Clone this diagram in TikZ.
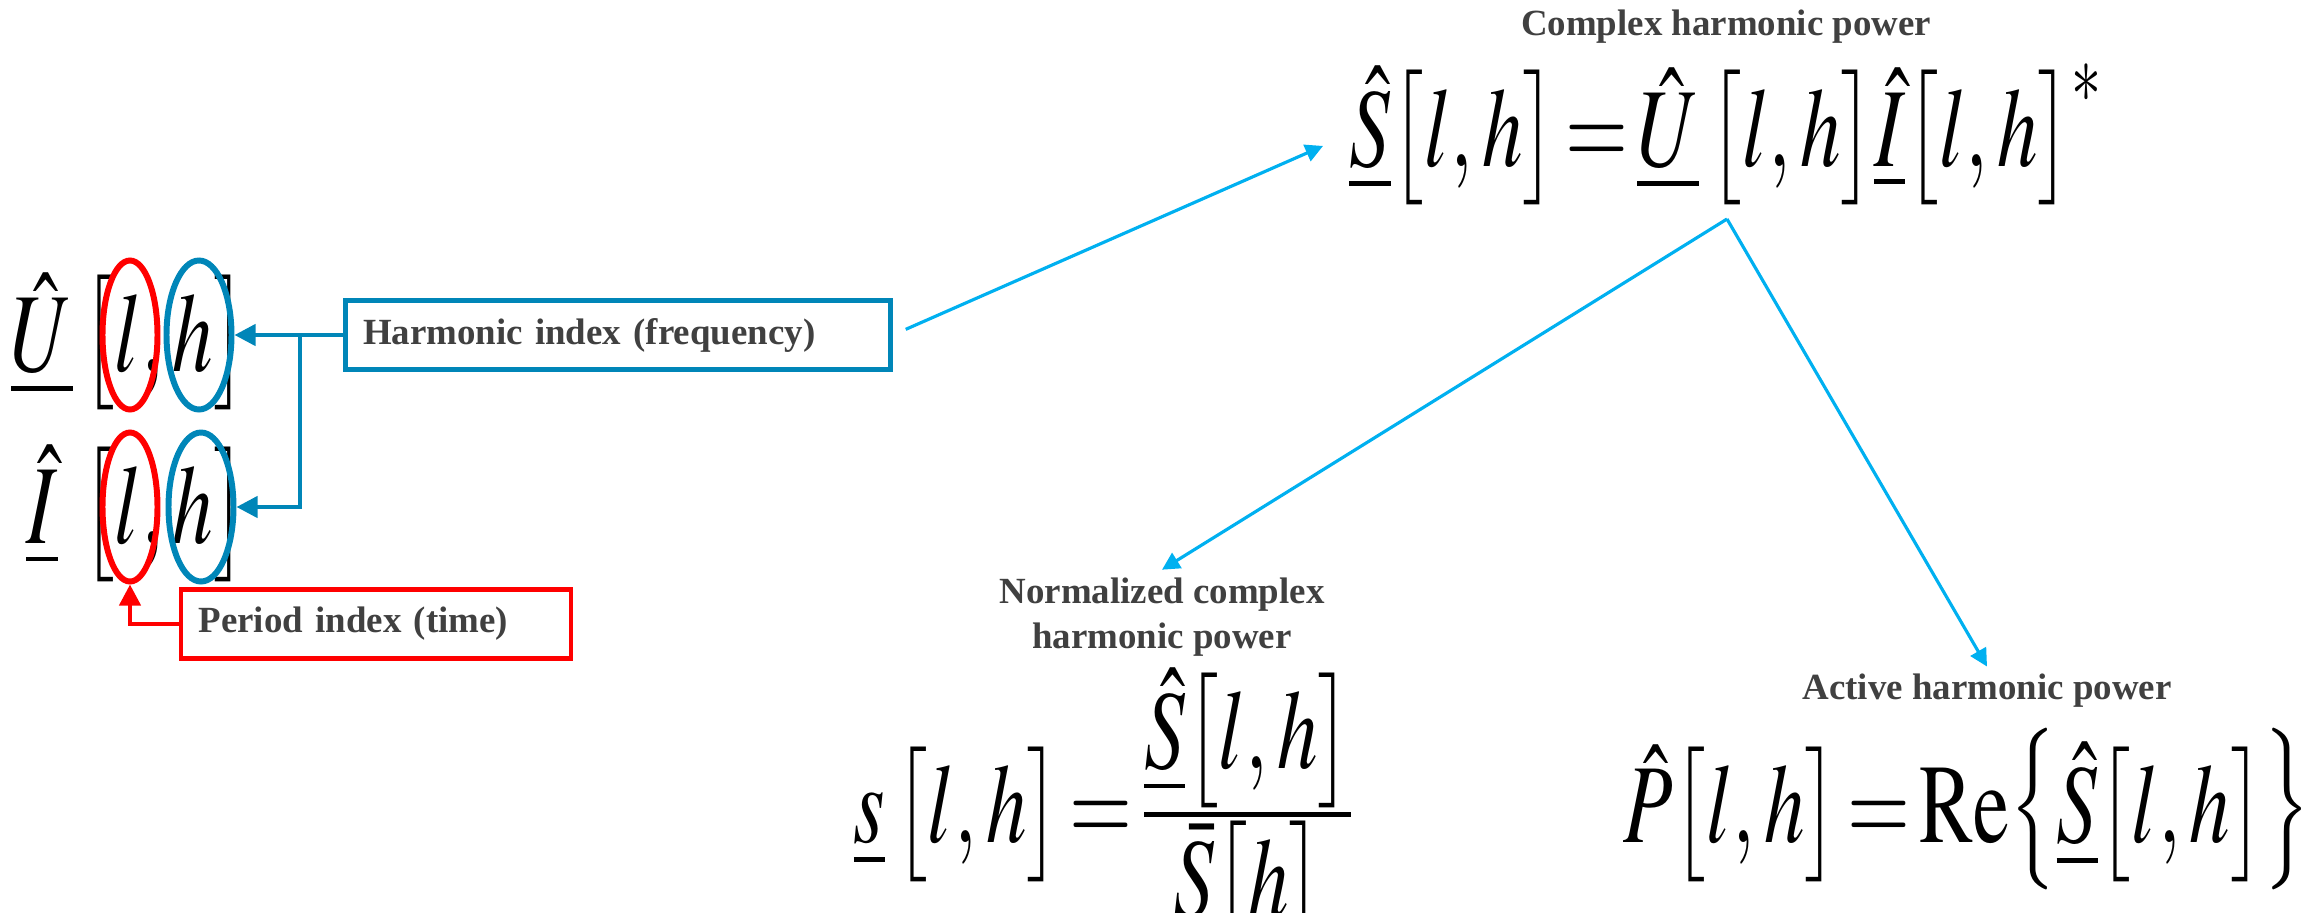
\documentclass[tikz,border=0pt]{standalone}
\usepackage{amsmath}
\usepackage{graphicx}
\usepackage{mathptmx}
\usepackage{fontspec}
\setmainfont{Liberation Serif}
\usepackage{xcolor}
\usetikzlibrary{arrows.meta,positioning,shapes.geometric}

\definecolor{idxblue}{RGB}{0,134,184}
\definecolor{idxred}{RGB}{255,0,0}
\definecolor{flowcyan}{RGB}{0,176,240}
\definecolor{lblgray}{RGB}{64,64,64}

% tall, narrow formula setting
\newcommand{\tallmath}[1]{\scalebox{0.72}[1]{$\thickmuskip=2mu\displaystyle #1$}}
\newcommand{\tallbrace}[1]{\mathord{\scalebox{1}[1.2]{$\bigl#1$}}}
% tight fraction, numerator close to the bar
\newcommand{\tightfrac}[2]{{\textstyle\frac{\displaystyle #1}{\displaystyle #2}}}

\begin{document}
\begin{tikzpicture}[
  eq/.style={inner sep=0pt,font=\fontsize{32}{38}\selectfont},
  lbl/.style={font=\fontsize{10.5}{13}\selectfont\bfseries,text=lblgray,
              align=center,inner sep=2pt},
  idxbox/.style={rectangle,line width=1.3pt,minimum height=0.62cm,
                 align=left,inner sep=5pt,text=lblgray,
                 font=\fontsize{10.5}{13}\selectfont\bfseries},
  ring/.style={draw,ellipse,line width=1.7pt,minimum width=0.55cm,
               minimum height=1.49cm,inner sep=0pt},
  idxarr/.style={-{Triangle[length=6pt,width=6pt]},line width=1.2pt},
  arr/.style={-{Triangle[length=5pt,width=5pt]},line width=0.9pt,flowcyan}
]
\useasboundingbox (0,0) rectangle (23.15,-9.12);

%% Indexed phasors on the left
\node[eq,anchor=base] (Uhat) at (0.42,-3.71) {\tallmath{\underline{\hat{U}}}};
\node[eq,anchor=base] (Ubr)  at (1.64,-3.71) {\tallmath{\bigl[l,h\bigr]}};
\node[eq,anchor=base] (Ihat) at (0.42,-5.43) {\tallmath{\underline{\hat{I}}}};
\node[eq,anchor=base] (Ibr)  at (1.64,-5.43) {\tallmath{\bigl[l,h\bigr]}};

%% Rings round the two indices
\node[ring,draw=idxred]  (Ul) at (1.30,-3.35) {};
\node[ring,draw=idxblue,minimum width=0.65cm] (Uh) at (1.99,-3.35) {};
\node[ring,draw=idxred]  (Il) at (1.30,-5.07) {};
\node[ring,draw=idxblue,minimum width=0.65cm] (Ih) at (2.01,-5.07) {};

%% Index boxes
\node[idxbox,draw=idxblue,text width=5.1cm] (hbox) at (6.18,-3.35) {Harmonic index (frequency)};
\node[idxbox,draw=idxred,text width=3.55cm]  (pbox) at (3.76,-6.24) {Period index (time)};

\coordinate (fork) at (3.00,-3.35);
\draw[idxarr,idxblue] (hbox.west) -- (Uh.east);
\draw[idxarr,idxblue] (fork) |- (Ih.east);
\draw[idxarr,idxred] (pbox.west) -| (Il.south);

%% Complex harmonic power
\node[lbl] (Slbl) at (17.26,-0.27) {Complex harmonic power};
\node[eq,anchor=base] (Sdef) at (17.26,-1.66)
  {\tallmath{\underline{\hat{S}}\bigl[l,h\bigr]=\underline{\hat{U}}\,\bigl[l,h\bigr]\underline{\hat{I}}\bigl[l,h\bigr]^{*}}};
\coordinate (split) at (17.27,-2.19);

%% Derived quantities
\node[lbl] (nlbl) at (11.62,-6.17) {Normalized complex\\harmonic power};
\node[eq] (snorm) at (11.04,-8.12)
  {\tallmath{\underline{s}\,\bigl[l,h\bigr]=\tightfrac{\underline{\hat{S}}\bigl[l,h\bigr]}{\bar{S}\bigl[h\bigr]}}};
\node[lbl] (albl) at (19.87,-6.91) {Active harmonic power};
\node[eq] (Pact) at (19.67,-8.09)
  {\tallmath{\hat{P}\bigl[l,h\bigr]=\mathrm{Re}\tallbrace\{\underline{\hat{S}}\bigl[l,h\bigr]\tallbrace\}}};

%% Flow arrows
\draw[arr,shorten <=4pt,shorten >=8pt] (hbox.east) -- (Sdef.west);
\draw[arr] (split) -- (nlbl.north);
\draw[arr] (split) -- (albl.north);
\end{tikzpicture}
\end{document}
